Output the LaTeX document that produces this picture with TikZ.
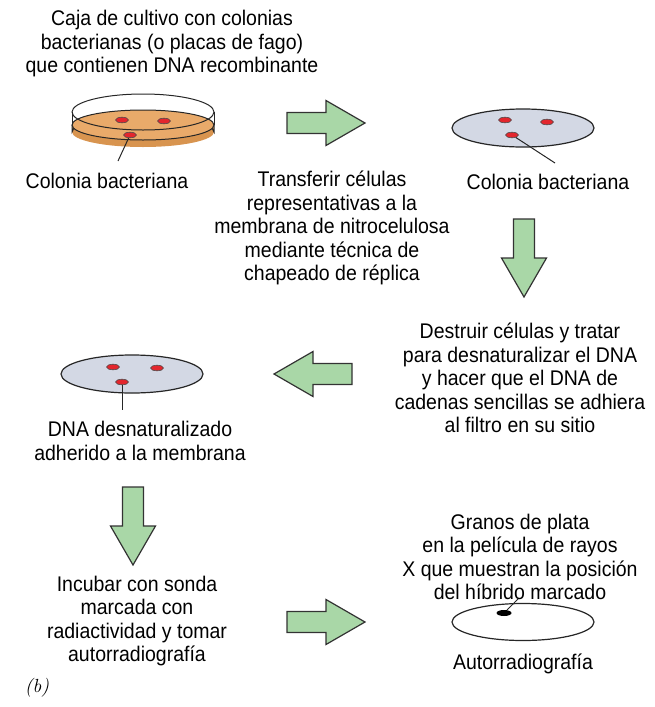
\documentclass[tikz,border=0pt]{standalone}
\usepackage{fontspec}
\newfontfamily\capfont[FakeStretch=0.92]{Liberation Sans}
\usetikzlibrary{shapes.geometric,calc}
\definecolor{arrowgreen}{HTML}{A9D7A7}
\definecolor{plategray}{HTML}{D3D8E4}
\definecolor{agar}{HTML}{E9AA6A}
\definecolor{agarside}{HTML}{D8944F}
\definecolor{colonyred}{HTML}{E3262D}
\tikzset{
  steptext/.style = {font=\capfont\fontsize{10.6}{11.75}\selectfont, align=center, inner sep=0pt},
  membrane/.style = {ellipse, draw=black!85, line width=0.6pt, fill=plategray,
                     minimum width=71pt, minimum height=19pt, inner sep=0pt},
  film/.style     = {membrane, fill=white, minimum height=18.5pt},
  colony/.style   = {ellipse, draw=black!70, line width=0.3pt, fill=colonyred,
                     minimum width=6.5pt, minimum height=2.8pt, inner sep=0pt},
  spot/.style     = {colony, draw=none, fill=black, minimum width=7.5pt, minimum height=3pt},
  pointer/.style  = {draw=black!85, line width=0.5pt},
  dish/.style     = {draw=black!85, line width=0.5pt},
  bigarrow/.style = {draw=black!80, fill=arrowgreen, line width=0.6pt, line join=miter},
  blockarrow/.pic = {\path[bigarrow] (-39,-10.5) -- (0,-10.5) -- (0,-22.5) -- (39,0)
                     -- (0,22.5) -- (0,10.5) -- (-39,10.5) -- cycle;},
}

\begin{document}
\begin{tikzpicture}[x=0.5pt, y=-0.5pt]
  \useasboundingbox (0,0) rectangle (654,707);

  % culture dish with agar
  \fill[agarside] (143,132) ellipse [x radius=71, y radius=15];
  \fill[agarside] (72,125) rectangle (214,132);
  \draw[dish] (72,125) -- (72,132) arc [start angle=180, end angle=0, x radius=71, y radius=-15] -- (214,125);
  \filldraw[dish, fill=agar] (143,125) ellipse [x radius=71, y radius=15];
  \draw[dish] (143,112) ellipse [x radius=71, y radius=18];
  \draw[dish] (72,112) -- (72,125) (214,112) -- (214,125);
  \node[colony] (dcol1) at (122,120) {};
  \node[colony] (dcol2) at (164,121) {};
  \node[colony] (dcol3) at (130,135) {};
  \coordinate (dtip) at (118,161);

  % membranes and film
  \node[membrane] (memA) at (523,128) {};
  \node[colony] (acol1) at (505,120) {};
  \node[colony] (acol2) at (547,122) {};
  \node[colony] (acol3) at (512,135) {};
  \coordinate (atip) at (555,163);

  \node[membrane] (memB) at (132,374) {};
  \node[colony] (bcol1) at (113,367) {};
  \node[colony] (bcol2) at (157,368) {};
  \node[colony] (bcol3) at (122,382) {};
  \coordinate (btip) at (122,410);

  \node[film] (film) at (523,622) {};
  \node[spot] (hyb) at (504,613) {};
  \coordinate (htip) at (519,598);

  \draw[pointer] (dcol3) -- (dtip);
  \draw[pointer] (acol3) -- (atip);
  \draw[pointer] (bcol3) -- (btip);
  \draw[pointer] (hyb) -- (htip);

  % step arrows
  \pic at (326,123) {blockarrow};
  \pic[rotate=-90] at (524,258) {blockarrow};
  \pic[rotate=180] at (313,374) {blockarrow};
  \pic[rotate=-90] at (133,526) {blockarrow};
  \pic at (326,622) {blockarrow};

  % captions
  \node[steptext] (dishlab) at (172,44) {Caja de cultivo con colonias\\bacterianas (o placas de fago)\\que contienen DNA recombinante};
  \node[steptext] (dcollab) at (107,181) {Colonia bacteriana};
  \node[steptext] (translab) at (332,228) {Transferir c\'elulas\\representativas a la\\membrana de nitrocelulosa\\mediante t\'ecnica de\\chapeado de r\'eplica};
  \node[steptext] (acollab) at (548,182) {Colonia bacteriana};
  \node[steptext] (lysislab) at (520,378) {Destruir c\'elulas y tratar\\para desnaturalizar el DNA\\y hacer que el DNA de\\cadenas sencillas se adhiera\\al filtro en su sitio};
  \node[steptext] (memlab) at (140,441) {DNA desnaturalizado\\adherido a la membrana};
  \node[steptext] (probelab) at (137,621) {Incubar con sonda\\marcada con\\radiactividad y tomar\\autorradiograf\'ia};
  \node[steptext] (grainlab) at (520,557) {Granos de plata\\en la pel\'icula de rayos\\X que muestran la posici\'on\\del h\'ibrido marcado};
  \node[steptext] (filmlab) at (523,664) {Autorradiograf\'ia};
  \node[font=\itshape\fontsize{9.5}{11}\selectfont, inner sep=0pt] (panel) at (37,688) {(b)};

\end{tikzpicture}
\end{document}
